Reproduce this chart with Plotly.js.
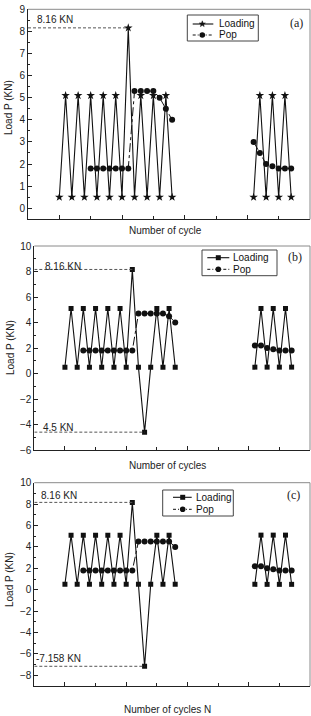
<!DOCTYPE html>
<html><head><meta charset="utf-8">
<script src="https://cdn.plot.ly/plotly-3.0.1.min.js"></script>
<style>html,body{margin:0;padding:0;background:#fff}#c{width:311px;height:716px}</style>
</head><body><div id="c"></div>
<script>
// ---- data ----
const cycles = [0,1,2,3,4,5,6,7,8,9,10,11,12,13,14,15,16,17,18,null,31,32,33,34,35,36,37];
const loadA = [0.5,5.1,0.5,5.1,0.5,5.1,0.5,5.1,0.5,5.1,0.5,8.16,0.5,5.1,0.5,5.1,0.5,5.1,0.5,null,0.5,5.1,0.5,5.1,0.5,5.1,0.5];
const loadB = [0.5,5.1,0.5,5.1,0.5,5.1,0.5,5.1,0.5,5.1,0.5,8.16,0.5,-4.6,0.5,5.1,0.5,5.1,0.5,null,0.5,5.1,0.5,5.1,0.5,5.1,0.5];
const loadC = [0.5,5.1,0.5,5.1,0.5,5.1,0.5,5.1,0.5,5.1,0.5,8.16,0.5,-7.158,0.5,5.1,0.5,5.1,0.5,null,0.5,5.1,0.5,5.1,0.5,5.1,0.5];
const popCyclesA = [5,6,7,8,9,10,11,12,13,14,15,16,17,18,null,31,32,33,34,35,36,37];
const popA = [1.8,1.8,1.8,1.8,1.8,1.8,1.8,5.3,5.3,5.3,5.3,5.0,4.5,4.0,null,3.0,2.5,2.0,1.9,1.8,1.8,1.8];
const popCyclesBC = [3,4,5,6,7,8,9,10,11,12,13,14,15,16,17,18,null,31,32,33,34,35,36,37];
const popB = [1.8,1.8,1.8,1.8,1.8,1.8,1.8,1.8,1.8,4.7,4.7,4.7,4.7,4.7,4.5,4.0,null,2.2,2.2,2.0,1.9,1.8,1.8,1.8];
const popC = [1.8,1.8,1.8,1.8,1.8,1.8,1.8,1.8,1.8,4.5,4.5,4.5,4.5,4.5,4.5,4.0,null,2.2,2.2,2.0,1.9,1.8,1.8,1.8];
const seriesNames = ["Loading","Pop"];
const panelTags = ["(a)","(b)","(c)"];
const xTitles = ["Number of cycle","Number of cycles","Number of cycles N"];
const yTitle = "Load P (KN)";
const maxLabel = "8.16 KN";
const minLabels = [null,"4.5 KN","-7.158 KN"];

// ---- layout helpers ----
const W=311,H=716;
const px=x=>x/W, py=y=>1-y/H;
const FONT="Liberation Sans, Arial, sans-serif";
const XR=[-5,40];
const INK="#111";
const panels=[
  {load:loadA,popX:popCyclesA,pop:popA,sym:"star",msize:6.5,xd:[28,310],yd:[219.3,9.3],yr:[-0.5,9],dt:1,mdt:0.5,
   leg:{box:[187.3,15,258.3,41],rows:[24,35],line:[192.7,213.3],mk:202.3,tx:216.5},
   tag:[296,23],xt:[165,231],yt:[8,108],maxL:[55,19],minL:null},
  {load:loadB,popX:popCyclesBC,pop:popB,sym:"square",msize:5,xd:[34.3,310],yd:[450,246],yr:[-6,10],dt:2,mdt:1,
   leg:{box:[202,250,277,275.7],rows:[257.7,269.3],line:[207.3,229.3],mk:218.3,tx:231},
   tag:[295,257],xt:[167,465],yt:[10,348],maxL:[63,266],minL:[58,427]},
  {load:loadC,popX:popCyclesBC,pop:popC,sym:"square",msize:5,xd:[34.3,310],yd:[686,482.7],yr:[-9,10],dt:2,mdt:1,
   leg:{box:[162.7,490,233.3,516],rows:[497.3,509.3],line:[173,191.7],mk:182.7,tx:194},
   tag:[293,495],xt:[167,709],yt:[9,580],maxL:[59,495],minL:[58,658]}
];

function starPath(cx,cy,R){
  let s="";
  for(let k=0;k<10;k++){
    const r=k%2===0?R:R*0.42, a=-Math.PI/2+k*Math.PI/5;
    s+=(k===0?"M":"L")+px(cx+r*Math.cos(a)).toFixed(5)+","+py(cy+r*Math.sin(a)).toFixed(5)+" ";
  }
  return s+"Z";
}
function note(x,y,text,extra){
  return Object.assign({xref:"paper",yref:"paper",x:px(x),y:py(y),xanchor:"center",yanchor:"middle",
    text:text,showarrow:false,font:{size:10,color:"#222"}},extra||{});
}

const data=[], shapes=[], annotations=[];
const layout={width:W,height:H,margin:{l:0,r:0,t:0,b:0},paper_bgcolor:"#fff",plot_bgcolor:"#fff",
  font:{family:FONT,size:10,color:INK},showlegend:false,shapes,annotations};

panels.forEach((p,i)=>{
  const n=i===0?"":String(i+1);
  const xa="x"+n, ya="y"+n;
  data.push({x:cycles,y:p.load,xaxis:xa,yaxis:ya,type:"scatter",mode:"lines+markers",name:seriesNames[0],
    line:{color:INK,width:1.1},marker:{symbol:p.sym,size:p.msize,color:INK},connectgaps:false});
  data.push({x:p.popX,y:p.pop,xaxis:xa,yaxis:ya,type:"scatter",mode:"lines+markers",name:seriesNames[1],
    line:{color:INK,width:1,dash:"dashdot"},marker:{symbol:"circle",size:6,color:INK},connectgaps:false});
  layout["xaxis"+n]={domain:[px(p.xd[0]),px(p.xd[1])],range:XR,anchor:ya,showgrid:false,zeroline:false,
    showline:true,linecolor:"#222",linewidth:1,ticks:"inside",ticklen:4,tickcolor:"#222",dtick:10,tick0:0,
    showticklabels:false,minor:{ticks:"inside",ticklen:3,dtick:5,tick0:0,tickcolor:"#222"}};
  layout["yaxis"+n]={domain:[py(p.yd[0]),py(p.yd[1])],range:p.yr,anchor:xa,showgrid:false,zeroline:false,
    showline:true,linecolor:"#222",linewidth:1,ticks:"inside",ticklen:4,tickcolor:"#222",dtick:p.dt,tick0:0,
    tickfont:{size:10,color:"#222"},minor:{ticks:"inside",ticklen:2,dtick:p.mdt,tick0:0,tickcolor:"#222"}};
  // grey top/right frame
  shapes.push({type:"line",xref:"paper",yref:"paper",x0:px(p.xd[0]),x1:px(p.xd[1]),y0:py(p.yd[1]),y1:py(p.yd[1]),line:{color:"#8a8a8a",width:1}});
  shapes.push({type:"line",xref:"paper",yref:"paper",x0:px(p.xd[1]),x1:px(p.xd[1]),y0:py(p.yd[0]),y1:py(p.yd[1]),line:{color:"#8a8a8a",width:1}});
  // reference dashed lines from data
  const vals=p.load.filter(v=>v!==null);
  const mx=Math.max(...vals), ix=p.load.indexOf(mx);
  shapes.push({type:"line",xref:xa,yref:ya,x0:XR[0],x1:cycles[ix],y0:mx,y1:mx,line:{color:"#555",width:1,dash:"3px,2px"}});
  annotations.push(note(p.maxL[0],p.maxL[1],maxLabel));
  if(p.minL){
    const mn=Math.min(...vals), im=p.load.indexOf(mn);
    shapes.push({type:"line",xref:xa,yref:ya,x0:XR[0],x1:cycles[im],y0:mn,y1:mn,line:{color:"#555",width:1,dash:"3px,2px"}});
    annotations.push(note(p.minL[0],p.minL[1],minLabels[i]));
  }
  // legend (drawn manually to match the compact boxed key)
  const L=p.leg;
  shapes.push({type:"rect",xref:"paper",yref:"paper",x0:px(L.box[0]),x1:px(L.box[2]),y0:py(L.box[3]),y1:py(L.box[1]),
    line:{color:"#444",width:1},fillcolor:"#fff"});
  shapes.push({type:"line",xref:"paper",yref:"paper",x0:px(L.line[0]),x1:px(L.line[1]),y0:py(L.rows[0]),y1:py(L.rows[0]),line:{color:INK,width:1.1}});
  shapes.push({type:"line",xref:"paper",yref:"paper",x0:px(L.line[0]),x1:px(L.line[1]),y0:py(L.rows[1]),y1:py(L.rows[1]),line:{color:INK,width:1,dash:"3px,2px,1px,2px"}});
  if(p.sym==="star"){
    shapes.push({type:"path",xref:"paper",yref:"paper",path:starPath(L.mk,L.rows[0],3.2),fillcolor:INK,line:{color:INK,width:0.5}});
  } else {
    shapes.push({type:"rect",xref:"paper",yref:"paper",x0:px(L.mk-2.5),x1:px(L.mk+2.5),y0:py(L.rows[0]+2.5),y1:py(L.rows[0]-2.5),fillcolor:INK,line:{color:INK,width:0}});
  }
  shapes.push({type:"circle",xref:"paper",yref:"paper",x0:px(L.mk-2.8),x1:px(L.mk+2.8),y0:py(L.rows[1]+2.8),y1:py(L.rows[1]-2.8),fillcolor:INK,line:{color:INK,width:0}});
  seriesNames.forEach((nm,k)=>annotations.push(note(L.tx,L.rows[k],nm,{xanchor:"left",font:{size:10,color:INK}})));
  annotations.push(note(p.tag[0],p.tag[1],panelTags[i],{font:{family:"Liberation Serif, Times New Roman, serif",size:12,color:"#222"}}));
  annotations.push(note(p.xt[0],p.xt[1],xTitles[i]));
  annotations.push(note(p.yt[0],p.yt[1],yTitle,{textangle:-90}));
});

Plotly.newPlot("c",data,layout,{staticPlot:true,displayModeBar:false});
</script></body></html>
